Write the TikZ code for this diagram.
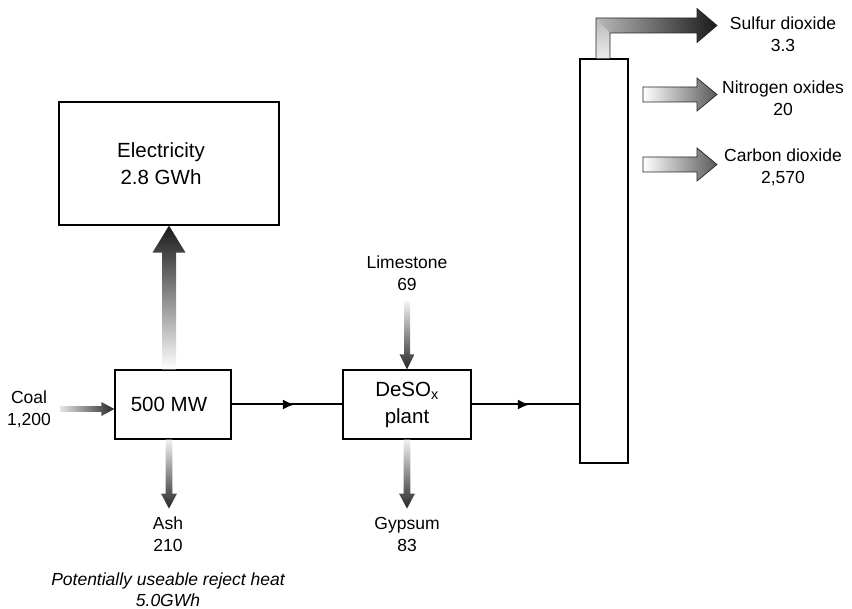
\documentclass[tikz,border=0pt]{standalone}
\usepackage{fontspec}
\setmainfont{Liberation Sans}
\usetikzlibrary{arrows.meta, positioning, calc, decorations.markings}

% fat shaded arrows: #1 style, #2 start, #3 tip, #4 half shaft, #5 half head, #6 head length
\newcommand{\harrow}[6]{%
  \path[shade, #1] let \p1=(#2), \p2=(#3) in
    (\x1,\y2+#4) -- (\x2-#6,\y2+#4) -- (\x2-#6,\y2+#5) -- (\x2,\y2)
    -- (\x2-#6,\y2-#5) -- (\x2-#6,\y2-#4) -- (\x1,\y2-#4) -- cycle;}
\newcommand{\varrow}[6]{%
  \path[shade, #1] let \p1=(#2), \p2=(#3), \n1={#6} in
    (\x2-#4,\y1) -- (\x2-#4,{\y2+\n1}) -- (\x2-#5,{\y2+\n1}) -- (\x2,\y2)
    -- (\x2+#5,{\y2+\n1}) -- (\x2+#4,{\y2+\n1}) -- (\x2+#4,\y1) -- cycle;}

\begin{document}
\begin{tikzpicture}[x=1pt, y=-1pt,
    box/.style={draw, line width=1.2pt, align=center, inner sep=0pt,
                font=\fontsize{20.5}{27}\selectfont},
    lbl/.style={align=center, inner sep=0pt, font=\fontsize{17.5}{22}\selectfont},
    flow/.style={line width=2pt},
    midarrow/.style={postaction={decorate}, decoration={markings,
        mark=at position #1 with {\arrow{Latex[length=12pt,width=10pt]}}}},
    rim/.style={draw=black!85, line width=0.7pt}]
    \useasboundingbox (0,0) rectangle (852,609);

    % Boxes
    \node[box, minimum width=220, minimum height=123] (elec) at (169,163.5) {Electricity\hspace*{16pt}\\2.8 GWh\hspace*{16pt}};
    \node[box, minimum width=116, minimum height=69] (mw) at (173,404.5) {500 MW\hspace*{8pt}};
    \node[box, minimum width=128, minimum height=69] (deso) at (407,404.5) {DeSO\textsubscript{x}\\plant};
    \node[draw, line width=1.2pt, minimum width=48, minimum height=404, inner sep=0pt] (stack) at (604,261) {};

    % Labels
    \node[lbl] (coal) at (29,409) {Coal\\1,200};
    \node[lbl] (ash) at (168,534) {Ash\\210};
    \node[lbl] (lime) at (407,273) {Limestone\\69};
    \node[lbl] (gyps) at (407,534) {Gypsum\\83};
    \node[lbl] (so2) at (783,34) {Sulfur dioxide\\3.3};
    \node[lbl] (nox) at (783,98) {Nitrogen oxides\\20};
    \node[lbl] (co2) at (783,167.5) {Carbon dioxide\\2,570};
    \node[lbl, font=\fontsize{17.5}{21}\selectfont\itshape] (heat) at (168,590)
        {Potentially useable reject heat\\5.0GWh};

    % Free ends
    \coordinate (coalin) at (60,409);
    \coordinate (coaltip) at (coalin -| mw.west);
    \coordinate (elecfoot) at (elec.south |- mw.north);
    \coordinate (ashtop) at ($(mw.south)+(-4,0)$);
    \coordinate (ashtip) at ($(mw.south)+(-4,69)$);
    \coordinate (limein) at ($(deso.north)+(0,-68)$);
    \coordinate (gypstip) at ($(deso.south)+(0,69)$);
    \coordinate (pipe) at ($(stack.north)+(-1,0)$);
    \coordinate (so2tip) at (717,25.5);
    \coordinate (noxin) at (643,94.5);
    \coordinate (noxtip) at (717,94.5);
    \coordinate (co2in) at (643,164.5);
    \coordinate (co2tip) at (717,164.5);

    % Flue gas line
    \draw[flow, midarrow=0.57] (mw.east) -- (deso.west);
    \draw[flow, midarrow=0.54] (deso.east) -- (stack.west |- deso.east);

    % Shaded arrows
    \harrow{left color=gray!20, right color=black!85}{coalin}{coaltip}{2.8pt}{7pt}{13pt}
    \varrow{bottom color=white, top color=black!90}{elecfoot}{elec.south}{7pt}{16.5pt}{-27pt}
    \varrow{top color=gray!10, bottom color=black!85}{ashtop}{ashtip}{3.3pt}{8pt}{15pt}
    \varrow{top color=gray!10, bottom color=black!85}{limein}{deso.north}{3pt}{7.5pt}{15pt}
    \varrow{top color=gray!10, bottom color=black!85}{deso.south}{gypstip}{3.3pt}{8pt}{15pt}
    \harrow{rim, left color=white, right color=black!65}{noxin}{noxtip}{7.5pt}{16.5pt}{20pt}
    \harrow{rim, left color=white, right color=black!65}{co2in}{co2tip}{7.5pt}{16.5pt}{20pt}

    % Sulfur dioxide out of the stack top
    \shade[bottom color=gray!15, top color=gray!55] let \p1=(pipe), \p2=(so2tip) in
        (\x1-7pt,\y1) -- (\x1-7pt,\y2+7.5pt) -- (\x1+7pt,\y2-7.5pt) -- (\x1+7pt,\y1) -- cycle;
    \shade[left color=gray!55, right color=black!90] let \p1=(pipe), \p2=(so2tip) in
        (\x1-7pt,\y2+7.5pt) -- (\x2-20pt,\y2+7.5pt) -- (\x2-20pt,\y2+17pt) -- (\x2,\y2)
        -- (\x2-20pt,\y2-17pt) -- (\x2-20pt,\y2-7.5pt) -- (\x1+7pt,\y2-7.5pt) -- cycle;
    \draw[rim] let \p1=(pipe), \p2=(so2tip) in
        (\x1-7pt,\y1) -- (\x1-7pt,\y2+7.5pt) -- (\x2-20pt,\y2+7.5pt) -- (\x2-20pt,\y2+17pt)
        -- (\x2,\y2) -- (\x2-20pt,\y2-17pt) -- (\x2-20pt,\y2-7.5pt) -- (\x1+7pt,\y2-7.5pt)
        -- (\x1+7pt,\y1);
\end{tikzpicture}
\end{document}
